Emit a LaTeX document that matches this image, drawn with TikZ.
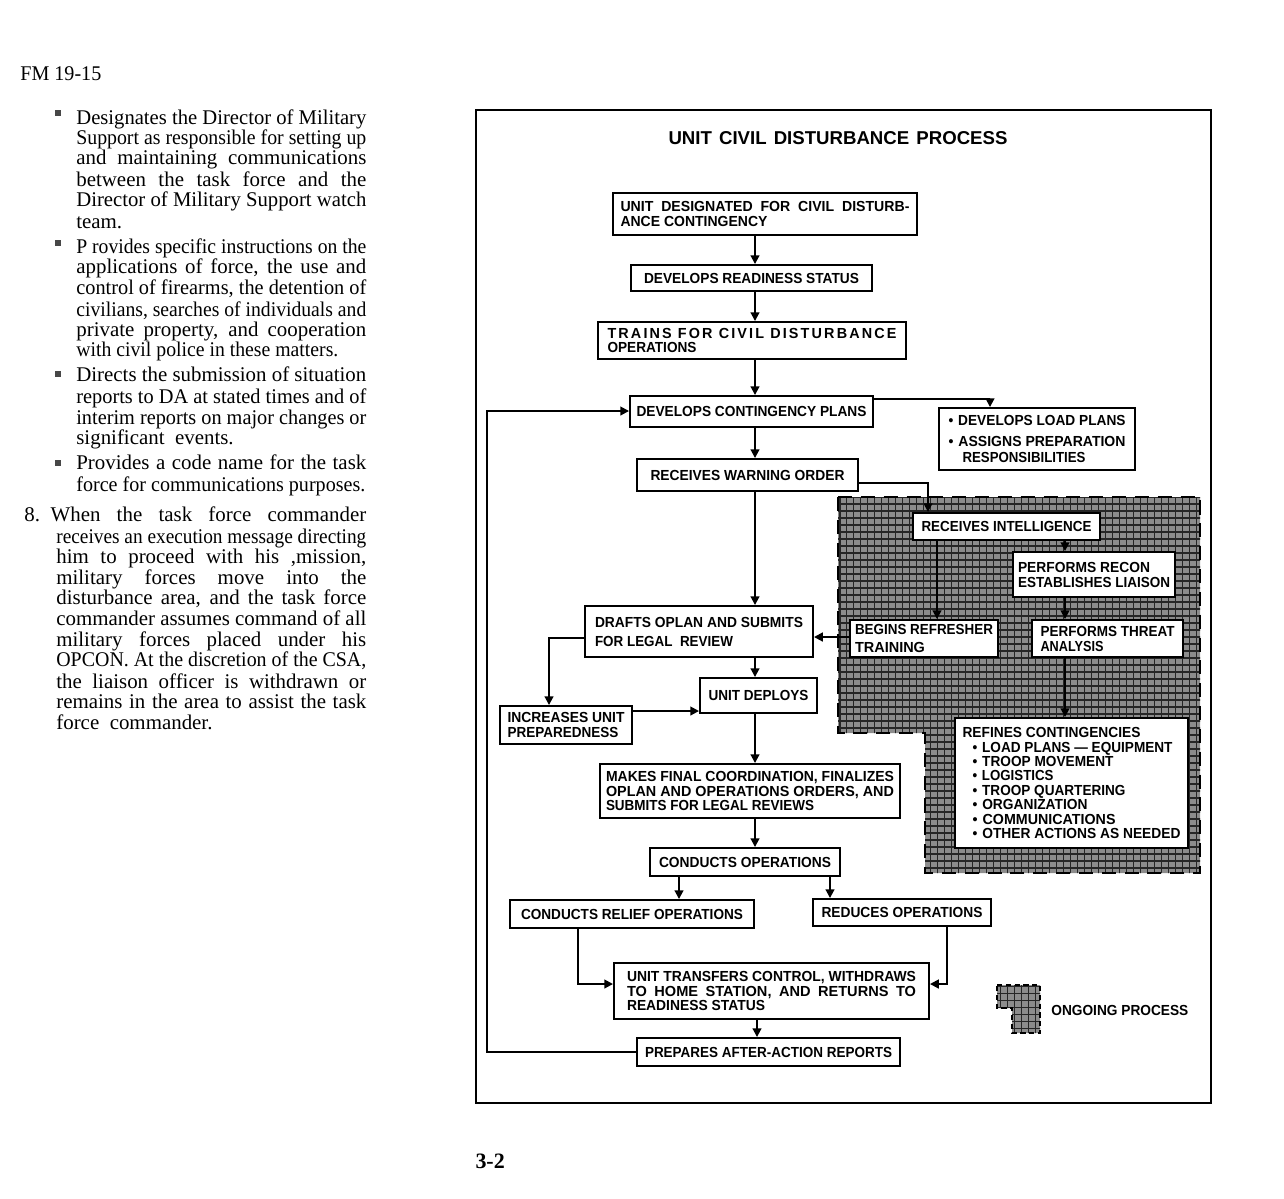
\documentclass[tikz,border=0pt]{standalone}
\usepackage{fontspec}
\setmainfont{Liberation Serif}
\newfontfamily\dsans{Liberation Sans}
\usepackage{graphicx}
\usetikzlibrary{arrows.meta}
\newdimen\pxu \pxu=0.02cm
\newdimen\jw \newdimen\jr \newbox\jbox
\makeatletter
\newcommand\jline[2]{%
  \setbox\jbox\hbox{#2}%
  \jw=#1\relax
  \ifdim\wd\jbox>\jw
    \jr=\dimexpr 1pt*\jw/\wd\jbox\relax
    \edef\jratio{\strip@pt\jr}%
    \makebox[\jw][l]{\scalebox{\jratio}[1]{#2}}%
  \else
    \makebox[\jw][s]{#2}%
  \fi}
\makeatother
\newcommand\fl[2]{\jline{#1\pxu}{#2}}
\newcommand\bul{•\kern3pt}
\newcommand\bxs[1]{\dsans\bfseries\fontsize{8.3}{#1}\selectfont}
\newcommand\serif{\fontsize{11.9}{13}\selectfont}
\tikzset{
  box/.style={draw, line width=1.1pt, fill=white, inner sep=0pt, align=left, font={\bxs{8.5}}},
  arr/.style={line width=1.1pt, -{Triangle[length=5pt,width=5pt]}},
  txt/.style={inner sep=0pt, anchor=base west, font=\serif},
  shade/.style={fill=black!45},
  mesh/.style={draw=black!85, line width=0.75pt},
  dashedge/.style={line width=1.3pt, dash pattern=on 8pt off 5pt}
}
\newcommand\bx[7]{\node[box,minimum width={(#4-#2)*0.02cm},minimum height={(#5-#3)*0.02cm},#6] (#1) at ({(#2+#4)/2},{(#3+#5)/2}) {#7};}
\begin{document}
\begin{tikzpicture}[x=0.02cm,y=-0.02cm]
\useasboundingbox (0,0) rectangle (1284,1198);
\fill[white] (0,0) rectangle (1284,1198);

% ---------- left column text ----------
\node[txt] (fm) at (20,80) {\fl{81}{FM 19-15}};
\foreach \xx/\yy/\ww/\txt [count=\i] in {
76/118/290/{Designates the Director of Military},
76/138/290/{Support as responsible for setting up},
76/158/290/{and maintaining communications},
76/180/290/{between the task force and the},
76/200/290/{Director of Military Support watch},
76/222/0/{team.},
76/247/290/{P rovides specific instructions on the},
76/267/290/{applications of force, the use and},
76/288/290/{control of firearms, the detention of},
76/310/290/{civilians, searches of individuals and},
76/330/290/{private property, and cooperation},
76/350/262/{with civil police in these matters.},
76/375/290/{Directs the submission of situation},
76/397/290/{reports to DA at stated times and of},
76/418/290/{interim reports on major changes or},
76/438/0/{significant \ events.},
76/463/290/{Provides a code name for the task},
76/485/289/{force for communications purposes.},
24/515/342/{8.\kern6pt When the task force commander},
56/537/310/{receives an execution message directing},
56/557/310/{him to proceed with his ,mission,},
56/578/310/{military forces move into the},
56/598/310/{disturbance area, and the task force},
56/619/310/{commander assumes command of all},
56/640/310/{military forces placed under his},
56/660/310/{OPCON. At the discretion of the CSA,},
56/682/310/{the liaison officer is withdrawn or},
56/702/310/{remains in the area to assist the task},
56/723/0/{force \ commander.}}
{
  \node[txt] (t\i) at (\xx,\yy+6) {\ifnum\ww=0 \txt\else\fl{\ww}{\txt}\fi};
}
\foreach \yy in {112.5,243,374,462.5}
  \fill[black!72] (55,\yy-3) rectangle (61,\yy+3);
\node[inner sep=0pt, font=\fontsize{12.5}{14}\selectfont\bfseries] (pg) at (492,1161) {\fl{33}{3-2}};

% ---------- frame and title ----------
\draw[line width=1.3pt] (476,110) rectangle (1211,1103);
\node[inner sep=0pt, font={\dsans\bfseries\fontsize{10.6}{12}\selectfont}] (title) at (838,138) {\fl{339}{UNIT CIVIL DISTURBANCE PROCESS}};

% ---------- ongoing-process shading ----------
\begin{scope}
  \clip (838,497) -- (1200,497) -- (1200,873) -- (925,873) -- (925,733) -- (838,733) -- cycle;
  \fill[shade] (830,490) rectangle (1210,880);
  \draw[mesh, step=0.14cm] (830,490) grid (1210,880);
\end{scope}
\draw[dashedge] (838,497) -- (1200,497) -- (1200,873) -- (925,873) -- (925,733) -- (838,733) -- cycle;

% legend
\begin{scope}
  \clip (997,985) -- (1040,985) -- (1040,1033) -- (1012,1033) -- (1012,1008) -- (997,1008) -- cycle;
  \fill[shade] (990,980) rectangle (1045,1040);
  \draw[mesh, step=0.14cm] (990,980) grid (1045,1040);
\end{scope}
\draw[line width=0.8pt, dash pattern=on 3pt off 2pt] (997,985) -- (1040,985) -- (1040,1033) -- (1012,1033) -- (1012,1008) -- (997,1008) -- cycle;
\node[inner sep=0pt, anchor=west, font={\bxs{9}}] (legend) at (1051,1010) {\fl{137}{ONGOING PROCESS}};

% ---------- boxes ----------
\bx{b1}{613}{193}{917}{235}{}{\fl{289}{UNIT \ DESIGNATED \ FOR \ CIVIL \ DISTURB-}\\\fl{147}{ANCE CONTINGENCY}}
\bx{b2}{631}{265}{872}{291}{}{\fl{215}{DEVELOPS READINESS STATUS}}
\bx{b3}{598}{322}{906}{359}{}{\fl{289}{\addfontfeature{LetterSpace=15}TRAINS FOR CIVIL DISTURBANCE}\\\fl{89}{OPERATIONS}}
\bx{b4}{630}{396}{873}{427}{}{\fl{230}{DEVELOPS CONTINGENCY PLANS}}
\bx{b5}{637}{459}{858}{491}{}{\fl{194}{RECEIVES WARNING ORDER}}
\bx{b6}{939}{408}{1135}{470}{font={\bxs{9}}}{\fl{177}{\bul DEVELOPS LOAD PLANS}\\[3pt]\fl{177}{\bul ASSIGNS PREPARATION}\\\hspace*{14\pxu}\fl{123}{RESPONSIBILITIES}}
\bx{b7}{913}{513}{1100}{540}{}{\fl{170}{RECEIVES INTELLIGENCE}}
\bx{b8}{1013}{552}{1175}{597}{}{\fl{132}{PERFORMS RECON}\\\fl{152}{ESTABLISHES LIAISON}}
\bx{b9}{850}{620}{998}{657}{font={\bxs{10.2}}}{\fl{138}{BEGINS REFRESHER}\\\fl{70}{TRAINING}}
\bx{b10}{1032}{620}{1183}{657}{}{\fl{134}{PERFORMS THREAT}\\\fl{63}{ANALYSIS}}
\bx{b11}{955}{718}{1188}{848}{font={\bxs{8.2}}}{\fl{178}{REFINES CONTINGENCIES}\\
 \hspace*{10\pxu}\fl{200}{\bul LOAD PLANS — EQUIPMENT}\\
 \hspace*{10\pxu}\fl{141}{\bul TROOP MOVEMENT}\\
 \hspace*{10\pxu}\fl{81}{\bul LOGISTICS}\\
 \hspace*{10\pxu}\fl{153}{\bul TROOP QUARTERING}\\
 \hspace*{10\pxu}\fl{115}{\bul ORGANIZATION}\\
 \hspace*{10\pxu}\fl{143}{\bul COMMUNICATIONS}\\
 \hspace*{10\pxu}\fl{208}{\bul OTHER ACTIONS AS NEEDED}}
\bx{b12}{585}{606}{813}{657}{font={\bxs{10.8}}}{\fl{208}{DRAFTS OPLAN AND SUBMITS}\\\fl{138}{FOR LEGAL \ REVIEW}}
\bx{b13}{700}{678}{817}{713}{}{\fl{100}{UNIT DEPLOYS}}
\bx{b14}{500}{706}{632}{744}{font={\bxs{9}}}{\fl{117}{INCREASES UNIT}\\\fl{111}{PREPAREDNESS}}
\bx{b15}{600}{764}{900}{818}{}{\fl{288}{MAKES FINAL COORDINATION, FINALIZES}\\\fl{288}{OPLAN AND OPERATIONS ORDERS, AND}\\\fl{208}{SUBMITS FOR LEGAL REVIEWS}}
\bx{b16}{650}{848}{840}{876}{}{\fl{172}{CONDUCTS OPERATIONS}}
\bx{b17}{510}{900}{754}{928}{}{\fl{222}{CONDUCTS RELIEF OPERATIONS}}
\bx{b18}{813}{899}{991}{926}{}{\fl{161}{REDUCES OPERATIONS}}
\bx{b19}{614}{963}{929}{1019}{}{\fl{289}{UNIT TRANSFERS CONTROL, WITHDRAWS}\\\fl{289}{TO HOME STATION, AND RETURNS TO}\\\fl{138}{READINESS STATUS}}
\bx{b20}{637}{1038}{900}{1066}{}{\fl{247}{PREPARES AFTER-ACTION REPORTS}}

% ---------- connectors ----------
\draw[arr] (b1.south -| 755,0) -- (b2.north -| 755,0);
\draw[arr] (b2.south -| 755,0) -- (b3.north -| 755,0);
\draw[arr] (b3.south -| 755,0) -- (b4.north -| 755,0);
\draw[arr] (b4.south -| 755,0) -- (b5.north -| 755,0);
\draw[arr] (b4.east |- 0,399) -| (b6.north -| 990,0);
\draw[arr] (b5.east |- 0,483) -| (b7.north -| 928,0);
\draw[arr] (b5.south -| 755,0) -- (b12.north -| 755,0);
\draw[arr] (b7.south -| 937,0) -- (b9.north -| 937,0);
\draw[arr] (b7.south -| 1065,0) -- (b8.north -| 1065,0);
\draw[arr] (b8.south -| 1065,0) -- (b10.north -| 1065,0);
\draw[arr] (b10.south -| 1065,0) -- (b11.north -| 1065,0);
\draw[arr] (b9.west |- 0,637) -- (b12.east |- 0,637);
\draw[arr] (b12.south -| 755,0) -- (b13.north -| 755,0);
\draw[arr] (b12.west |- 0,638) -| (b14.north -| 549,0);
\draw[arr] (b14.east |- 0,711) -- (b13.west |- 0,711);
\draw[arr] (b13.south -| 755,0) -- (b15.north -| 755,0);
\draw[arr] (b15.south -| 755,0) -- (b16.north -| 755,0);
\draw[arr] (b16.south -| 679,0) -- (b17.north -| 679,0);
\draw[arr] (b16.south -| 830,0) -- (b18.north -| 830,0);
\draw[arr] (b17.south -| 578,0) |- (b19.west |- 0,984);
\draw[arr] (b18.south -| 947,0) |- (b19.east |- 0,984);
\draw[arr] (b19.south -| 757,0) -- (b20.north -| 757,0);
\coordinate (fb1) at (487,1052);
\coordinate (fb2) at (487,411);
\draw[arr] (b20.west) -- (fb1) -- (fb2) -- (b4.west |- fb2);
\end{tikzpicture}
\end{document}
